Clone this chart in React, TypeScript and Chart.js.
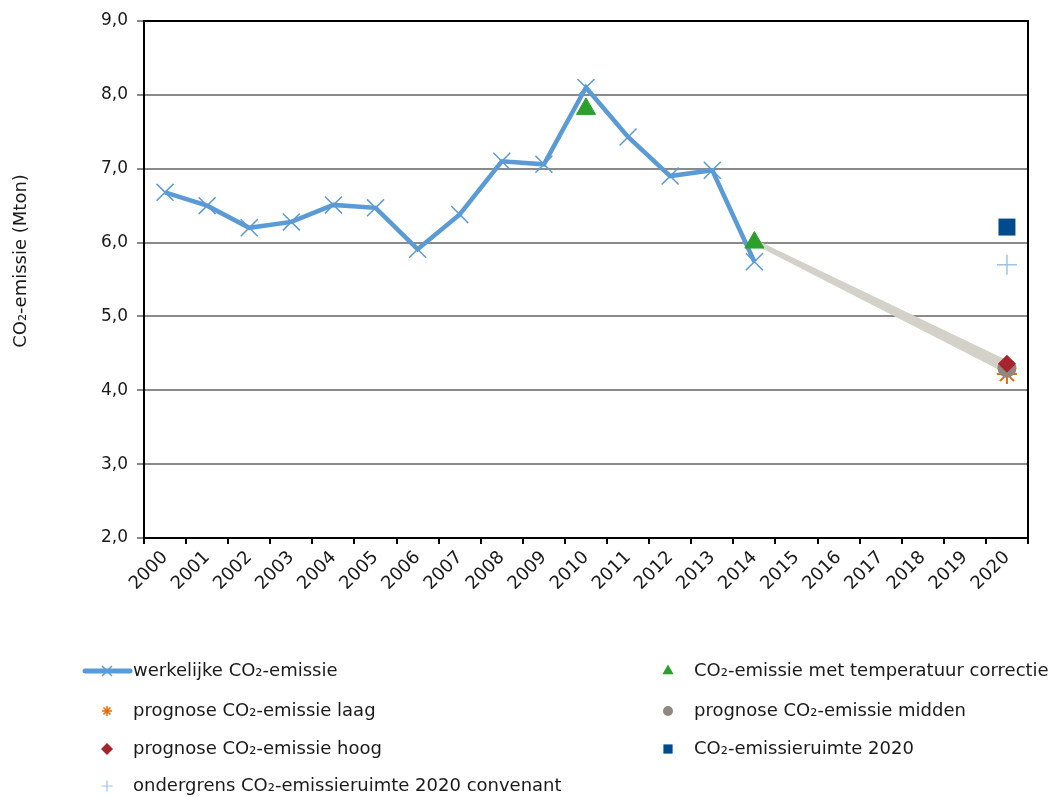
import React, { useEffect, useRef } from 'react';
import { Chart, registerables } from 'chart.js';
import { drawPoint } from 'chart.js/helpers';

Chart.register(...registerables);

const years = ['2000', '2001', '2002', '2003', '2004', '2005', '2006', '2007', '2008', '2009', '2010',
  '2011', '2012', '2013', '2014', '2015', '2016', '2017', '2018', '2019', '2020'];

const werkelijkeEmissie = [6.68, 6.50, 6.20, 6.28, 6.51, 6.47, 5.91, 6.38, 7.10, 7.06, 8.10,
  7.43, 6.90, 6.98, 5.74, null, null, null, null, null, null];
const temperatuurCorrectie = [null, null, null, null, null, null, null, null, null, null, 7.81,
  null, null, null, 6.00, null, null, null, null, null, null];
const prognoseLaag = [null, null, null, null, null, null, null, null, null, null, null,
  null, null, null, null, null, null, null, null, null, 4.22];
const prognoseMidden = [null, null, null, null, null, null, null, null, null, null, null,
  null, null, null, null, null, null, null, null, null, 4.30];
const prognoseHoog = [null, null, null, null, null, null, null, null, null, null, null,
  null, null, null, null, null, null, null, null, null, 4.36];
const emissieruimte2020 = [null, null, null, null, null, null, null, null, null, null, null,
  null, null, null, null, null, null, null, null, null, 6.21];
const ondergrensConvenant = [null, null, null, null, null, null, null, null, null, null, null,
  null, null, null, null, null, null, null, null, null, 5.70];

const bandYears = ['2014', '2020'];
const bandUpper = [6.04, 4.40];
const bandLower = [5.98, 4.23];

const yTicksMin = 2;
const yTicksMax = 9;

const yTitle = 'CO₂-emissie (Mton)';

const BLUE = 'rgb(91,155,213)';
const FONT = '"DejaVu Sans", Verdana, sans-serif';

const labels = {
  werkelijk: 'werkelijke CO₂-emissie',
  temp: 'CO₂-emissie met temperatuur correctie',
  laag: 'prognose CO₂-emissie laag',
  midden: 'prognose CO₂-emissie midden',
  hoog: 'prognose CO₂-emissie hoog',
  ruimte: 'CO₂-emissieruimte 2020',
  onder: 'ondergrens CO₂-emissieruimte 2020 convenant',
};

// legend layout: dataset index, column, row
const legendLayout = [
  { ds: 0, col: 0, row: 0, line: true, r: 7, bw: 1.5 },
  { ds: 1, col: 1, row: 0, r: 6.5, bw: 0 },
  { ds: 2, col: 0, row: 1, r: 5, bw: 1.5 },
  { ds: 3, col: 1, row: 1, r: 5, bw: 0 },
  { ds: 4, col: 0, row: 2, r: 6, bw: 0 },
  { ds: 5, col: 1, row: 2, r: 6.5, bw: 0 },
  { ds: 6, col: 0, row: 3, r: 5.5, bw: 1.2 },
];
const legendColMarker = [107, 668];
const legendColText = [133, 694];
const legendRowY = [671, 711, 749, 786];

const framePlugin = {
  id: 'frame',
  beforeDatasetsDraw(chart: any) {
    const { ctx, chartArea } = chart;
    ctx.save();
    ctx.strokeStyle = '#000';
    ctx.lineWidth = 2;
    ctx.beginPath();
    ctx.moveTo(chartArea.left, chartArea.top);
    ctx.lineTo(chartArea.right, chartArea.top);
    ctx.lineTo(chartArea.right, chartArea.bottom);
    ctx.stroke();
    ctx.restore();
  },
  afterDraw(chart: any) {
    const ctx = chart.ctx;
    ctx.save();
    ctx.translate(21, 261);
    ctx.rotate(-Math.PI / 2);
    ctx.font = '18px ' + FONT;
    ctx.fillStyle = '#1a1a1a';
    ctx.textAlign = 'center';
    ctx.textBaseline = 'middle';
    ctx.fillText(yTitle, 0, 0);
    ctx.restore();
  },
};

const legendPlugin = {
  id: 'customLegend',
  afterDraw(chart: any) {
    const ctx = chart.ctx;
    ctx.save();
    ctx.font = '18px ' + FONT;
    ctx.textBaseline = 'middle';
    ctx.textAlign = 'left';
    legendLayout.forEach((item) => {
      const ds: any = chart.data.datasets[item.ds];
      const mx = legendColMarker[item.col];
      const tx = legendColText[item.col];
      const y = legendRowY[item.row];
      if (item.line) {
        ctx.strokeStyle = ds.borderColor;
        ctx.lineWidth = 5;
        ctx.lineCap = 'round';
        ctx.beginPath();
        ctx.moveTo(85, y);
        ctx.lineTo(130, y);
        ctx.stroke();
        ctx.lineCap = 'butt';
      }
      ctx.fillStyle = ds.pointBackgroundColor;
      ctx.strokeStyle = ds.pointBorderColor;
      ctx.lineWidth = item.bw;
      drawPoint(ctx, {
        pointStyle: ds.pointStyle,
        rotation: 0,
        radius: item.r,
        borderWidth: item.bw,
      } as any, mx, y);
      ctx.fillStyle = '#1a1a1a';
      ctx.fillText(ds.label, tx, y);
    });
    ctx.restore();
  },
};

export default function App() {
  const canvasRef = useRef<HTMLCanvasElement | null>(null);

  useEffect(() => {
    const canvas = canvasRef.current;
    if (!canvas) return;
    Chart.defaults.font.family = FONT;
    Chart.defaults.color = '#1a1a1a';

    const markerDs = (label: string, data: any[], style: string, radius: number, bg: string, border: string, bw: number, order: number) => ({
      type: 'line' as const,
      label,
      data,
      showLine: false,
      pointStyle: style,
      pointRadius: radius,
      pointBackgroundColor: bg,
      pointBorderColor: border,
      pointBorderWidth: bw,
      order,
    });

    const chart = new Chart(canvas, {
      type: 'line',
      data: {
        labels: years,
        datasets: [
          {
            label: labels.werkelijk,
            data: werkelijkeEmissie,
            borderColor: BLUE,
            borderWidth: 4.5,
            pointStyle: 'crossRot',
            pointRadius: 12,
            pointBorderColor: BLUE,
            pointBackgroundColor: BLUE,
            pointBorderWidth: 1.5,
            tension: 0,
            order: 7,
          } as any,
          markerDs(labels.temp, temperatuurCorrectie, 'triangle', 11, 'rgb(44,160,44)', 'rgb(44,160,44)', 1, 6),
          markerDs(labels.laag, prognoseLaag, 'star', 10, 'rgb(228,108,10)', 'rgb(228,108,10)', 2, 5),
          markerDs(labels.midden, prognoseMidden, 'circle', 9.5, 'rgb(142,135,130)', 'rgb(142,135,130)', 0, 4),
          markerDs(labels.hoog, prognoseHoog, 'rectRot', 9, 'rgb(166,36,46)', 'rgb(166,36,46)', 0, 3),
          markerDs(labels.ruimte, emissieruimte2020, 'rect', 12, 'rgb(0,75,141)', 'rgb(0,75,141)', 0, 2),
          markerDs(labels.onder, ondergrensConvenant, 'cross', 10, 'rgb(157,195,230)', 'rgb(157,195,230)', 1.5, 1),
          {
            label: 'band boven',
            data: bandYears.map((x, i) => ({ x, y: bandUpper[i] })),
            borderColor: 'rgb(212,209,201)',
            borderWidth: 1,
            pointRadius: 0,
            fill: false,
            order: 9,
          } as any,
          {
            label: 'band onder',
            data: bandYears.map((x, i) => ({ x, y: bandLower[i] })),
            borderColor: 'rgb(212,209,201)',
            backgroundColor: 'rgb(212,209,201)',
            borderWidth: 1,
            pointRadius: 0,
            fill: '-1',
            order: 8,
          } as any,
        ],
      },
      options: {
        responsive: false,
        animation: false,
        events: [],
        layout: { padding: { left: 0, top: 21, right: 23, bottom: 179 } },
        plugins: {
          legend: { display: false },
          tooltip: { enabled: false },
        },
        scales: {
          x: {
            type: 'category',
            offset: true,
            afterFit: (s: any) => { s.height = 80; },
            grid: {
              display: true,
              offset: true,
              drawOnChartArea: false,
              drawTicks: true,
              tickLength: 6,
              color: '#000',
              lineWidth: 2,
            },
            border: { display: true, color: '#000', width: 2 },
            ticks: {
              autoSkip: false,
              minRotation: 45,
              maxRotation: 45,
              padding: 3,
              font: { size: 18, family: FONT },
              color: '#1a1a1a',
            },
          },
          y: {
            min: yTicksMin,
            max: yTicksMax,
            afterFit: (s: any) => { s.width = 144; },
            grid: {
              color: '#8a8a8a',
              lineWidth: 2,
              tickLength: 7,
              drawTicks: true,
            },
            border: { display: true, color: '#000', width: 2 },
            ticks: {
              stepSize: 1,
              padding: 9,
              font: { size: 17, family: FONT },
              color: '#1a1a1a',
              callback: (v: any) => Number(v).toFixed(1).replace('.', ','),
            },
          },
        },
      } as any,
      plugins: [framePlugin, legendPlugin],
    });
    return () => chart.destroy();
  }, []);

  return (
    <div style={{ position: 'absolute', left: 0, top: 0, width: 1051, height: 797, background: '#fff' }}>
      <canvas ref={canvasRef} width={1051} height={797} style={{ display: 'block' }} />
    </div>
  );
}
